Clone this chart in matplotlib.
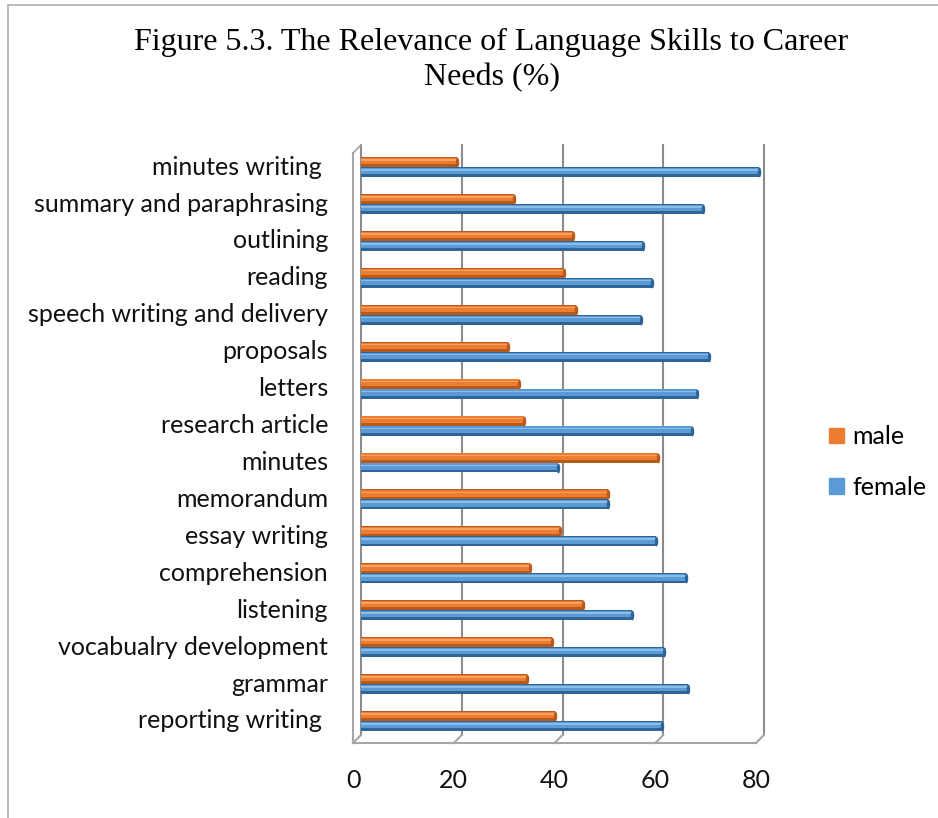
import numpy as np
import matplotlib
matplotlib.use("Agg")
import matplotlib.pyplot as plt
from matplotlib.patches import Patch, Rectangle
from matplotlib.transforms import offset_copy

# data, bottom to top
skills = ["reporting writing ", "grammar", "vocabualry development", "listening",
          "comprehension", "essay writing", "memorandum", "minutes",
          "research article", "letters", "proposals", "speech writing and delivery",
          "reading", "outlining", "summary and paraphrasing", "minutes writing "]
male = [39.5, 34, 39, 45, 34.5, 40.5, 50, 60, 33.3, 32.3, 30.2, 43.6, 41.3, 43, 31.3, 20]
female = [60.7, 66, 61.2, 54.8, 65.5, 59.5, 50, 40, 66.7, 67.7, 70, 56.5, 58.8, 57, 68.8, 80]
ticks = [0, 20, 40, 60, 80]

orange, orange_dk, orange_lt = "#ED7D31", "#B85A1C", "#F7A35F"
blue, blue_dk, blue_lt = "#5B9BD5", "#2F6496", "#8BBDE8"
frame_col = "#A6A6A6"
lbl_font = "Lato"
fs = 18

W, H = 938, 818
fig = plt.figure(figsize=(W / 100, H / 100), dpi=100)

left, right, top, bottom = 361, 764, 145, 735
ax = fig.add_axes([left / W, 1 - bottom / H, (right - left) / W, (bottom - top) / H])
ax.set_xlim(0, 80)
ax.set_ylim(-0.38, 15.6)
for s in ax.spines.values():
    s.set_visible(False)
ax.set_xticks([])
ax.set_yticks([])

y = np.arange(len(skills))
h = 0.27

# bars sit between the back wall and the front
mid = offset_copy(ax.transData, fig=fig, x=-5, y=0, units="dots")
front = offset_copy(ax.transData, fig=fig, x=-8, y=-8, units="dots")

t_ = np.linspace(0, 2 * np.pi, 40)
cap = np.column_stack([0.35 * np.cos(t_), np.sin(t_)])

for vals, yy, c, cd, cl in [(male, y + h / 2, orange, orange_dk, orange_lt),
                            (female, y - h / 2, blue, blue_dk, blue_lt)]:
    ax.barh(yy, vals, height=h, color=cd, transform=mid, zorder=3)
    ax.barh(yy + h * 0.1, vals, height=h * 0.65, color=c, transform=mid, zorder=4)
    ax.barh(yy + h * 0.22, vals, height=h * 0.15, color=cl, transform=mid, zorder=4)
    ax.scatter(vals, yy, marker=cap, s=50, color=cd, transform=mid, zorder=5,
               linewidths=0)

# gridlines on the back wall
for t in ticks:
    ax.plot([t, t], [-0.38, 15.6], color="#8C8C8C", lw=1.5, zorder=1, clip_on=False)
    # little floor diagonals
    ax.plot([t, t - 8 / 5.04], [-0.38, -0.38 - 8 / 36.93], color=frame_col, lw=1.5,
            clip_on=False, zorder=1)

# front frame: left wall edge + floor edge
ax.plot([0, 0], [-0.38, 15.6], color=frame_col, lw=1.5, transform=front, clip_on=False)
ax.plot([0, 80], [-0.38, -0.38], color=frame_col, lw=1.5, transform=front, clip_on=False)
ax.plot([0, 8 / 5.04], [15.6, 15.6 + 8 / 36.93], color=frame_col, lw=1.2, transform=front,
        clip_on=False)

# category labels
for yi, name in zip(y, skills):
    ax.text(-33 / 5.04, yi, name, ha="right", va="center", fontsize=fs,
            family=lbl_font, color="#111111")

# x tick labels on the front plane
for t in ticks:
    ax.text(t, -1.4, str(t), ha="center", va="center", fontsize=fs,
            family=lbl_font, transform=front, color="#111111")

fig.text(0.524, 1 - 42 / H, "Figure 5.3. The Relevance of Language Skills to Career",
         ha="center", va="center", fontsize=23, family="Liberation Serif")
fig.text(0.524, 1 - 78 / H, "Needs (%)", ha="center", va="center", fontsize=23,
         family="Liberation Serif")

handles = [Patch(color=orange, label="male"), Patch(color=blue, label="female")]
fig.legend(handles=handles, loc="center left", bbox_to_anchor=(806 / W, 1 - 462 / H),
           frameon=False, prop={"family": lbl_font, "size": fs}, handlelength=0.6,
           handleheight=0.6, handletextpad=0.35, labelspacing=1.1)

# outer chart border (only top and left fall inside the image)
fig.patches.append(Rectangle((8 / W, -0.1), 1.2, 1 - 5 / H + 0.1, transform=fig.transFigure,
                             fill=False, edgecolor="#B0B0B0", lw=1.2))

fig.savefig("out.png", dpi=100)
